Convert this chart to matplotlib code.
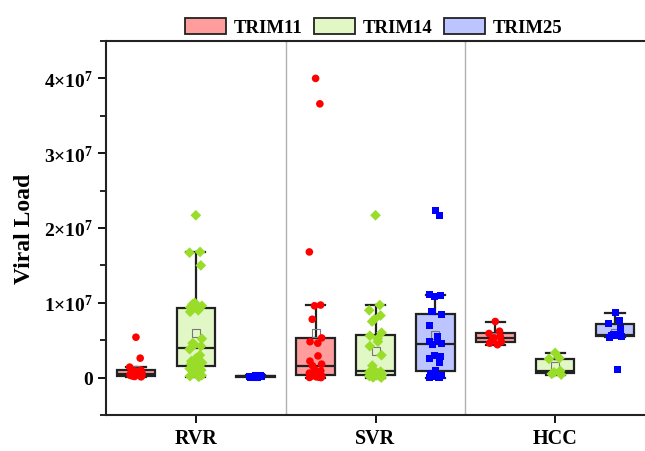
import numpy as np
import matplotlib
matplotlib.use("Agg")
import matplotlib.pyplot as plt
from matplotlib.patches import Patch
from matplotlib.ticker import MultipleLocator, FixedLocator

plt.rcParams['font.family'] = ['Liberation Serif', 'DejaVu Serif']
plt.rcParams['font.weight'] = 'bold'
plt.rcParams['mathtext.fontset'] = 'custom'
plt.rcParams['mathtext.rm'] = 'Liberation Serif:bold'
plt.rcParams['mathtext.bf'] = 'Liberation Serif:bold'

# data (viral load, units of 1e6)
groups = ['RVR', 'SVR', 'HCC']
genes = ['TRIM11', 'TRIM14', 'TRIM25']

rvr_trim11 = [5.4, 2.6, 1.4, 1.0, 0.9, 0.8, 0.6, 0.5, 0.45, 0.4, 0.3, 0.25, 0.2, 0.15, 0.1]
rvr_trim14 = [21.7, 16.8, 16.7, 15.0, 10.0, 9.8, 9.6, 9.4, 9.2, 9.0, 8.8, 5.2, 4.6, 4.4,
              4.2, 3.8, 3.0, 2.6, 2.2, 2.0, 1.8, 1.6, 1.5, 1.2, 1.0, 0.9, 0.6, 0.3, 0.2, 0.1]
rvr_trim25 = [0.3, 0.25, 0.2, 0.18, 0.15, 0.12, 0.1, 0.08, 0.05]

svr_trim11 = [40.0, 36.6, 16.8, 9.7, 9.6, 7.8, 5.3, 4.8, 4.6, 2.9, 2.2, 1.8, 1.6, 1.2,
              0.9, 0.6, 0.5, 0.4, 0.3, 0.2, 0.15, 0.1, 0.05, 0.02, 0.0]
svr_trim14 = [21.7, 9.7, 9.0, 8.3, 7.8, 7.5, 6.0, 5.6, 5.2, 4.8, 4.2, 3.0, 1.6, 1.0,
              0.8, 0.7, 0.6, 0.5, 0.45, 0.4, 0.35, 0.3, 0.25, 0.2, 0.15, 0.1, 0.05, 0.0]
svr_trim25 = [22.4, 21.7, 11.1, 11.0, 10.9, 8.8, 8.4, 7.0, 5.5, 5.0, 4.8, 4.6, 4.4,
              3.0, 2.8, 2.5, 2.0, 1.0, 0.5, 0.3, 0.2, 0.1, 0.05, 0.0]

hcc_trim11 = [7.5, 6.2, 5.9, 5.5, 5.3, 5.0, 4.8, 4.6, 4.4]
hcc_trim14 = [3.3, 2.6, 2.5, 0.9, 0.7, 0.5, 0.4]
hcc_trim25 = [8.7, 7.6, 7.2, 6.5, 5.7, 5.6, 5.5, 5.4, 1.1]

data = [[rvr_trim11, rvr_trim14, rvr_trim25],
        [svr_trim11, svr_trim14, svr_trim25],
        [hcc_trim11, hcc_trim14, hcc_trim25]]

box_colors = ['#FF9C9C', '#E1F7C6', '#BCC5FF']
pt_colors = ['#FF0000', '#99DD2A', '#0000FF']
pt_markers = ['o', 'D', 's']
pt_sizes = [30, 30, 26]

fig = plt.figure(figsize=(6.45, 4.52), dpi=100)
ax = fig.add_axes([106 / 645, 36 / 452, 539 / 645, 374 / 452])

offsets = [-1 / 3, 0, 1 / 3]
width = 0.215
for gi, grp in enumerate(data):
    for k, vals in enumerate(grp):
        v = np.array(vals) * 1e6
        pos = gi + 1 + offsets[k]
        ax.boxplot(v, positions=[pos], widths=width, patch_artist=True,
                   showfliers=False, showmeans=True, whis=1.5,
                   boxprops=dict(facecolor=box_colors[k], edgecolor='#222222', linewidth=1.6),
                   medianprops=dict(color='#222222', linewidth=1.6),
                   whiskerprops=dict(color='#222222', linewidth=1.6),
                   capprops=dict(color='#222222', linewidth=1.6),
                   capwidths=width * 0.5,
                   meanprops=dict(marker='s', markerfacecolor='none', markeredgecolor='#777777',
                                  markersize=5.5, markeredgewidth=0.8),
                   zorder=2)
        # deterministic jitter around box centre
        jit = 0.035 * np.sin(np.arange(len(v)) * 2.4)
        ax.scatter(pos + jit, v, s=pt_sizes[k], marker=pt_markers[k], color=pt_colors[k],
                   edgecolors='none', zorder=3)

for xs in [1.5, 2.5]:
    ax.axvline(xs, color='#B0B0B0', linewidth=1.0, zorder=0)

ax.set_xlim(0.5, 3.5)
ax.set_ylim(-5e6, 4.5e7)
ax.xaxis.set_major_locator(FixedLocator([1, 2, 3]))
ax.set_xticklabels(groups, fontsize=14.5, fontweight='bold')
ax.yaxis.set_major_locator(FixedLocator([0, 1e7, 2e7, 3e7, 4e7]))
ax.set_yticklabels(['0', r'$\mathbf{1{\times}10^{7}}$', r'$\mathbf{2{\times}10^{7}}$',
                    r'$\mathbf{3{\times}10^{7}}$', r'$\mathbf{4{\times}10^{7}}$'], fontsize=14)
ax.yaxis.set_minor_locator(MultipleLocator(5e6))
ax.tick_params(axis='both', which='major', direction='out', length=6, width=1.3)
ax.tick_params(axis='y', which='minor', direction='out', length=4, width=1.2)
ax.tick_params(axis='x', which='minor', bottom=False)
ax.set_ylabel('Viral Load', fontsize=17, fontweight='bold', labelpad=6)

for s in ['left', 'bottom', 'top']:
    ax.spines[s].set_linewidth(1.5)
    ax.spines[s].set_color('#222222')
ax.spines['right'].set_visible(False)

handles = [Patch(facecolor=box_colors[k], edgecolor='#222222', linewidth=1.3, label=genes[k])
           for k in range(3)]
fig.legend(handles=handles, loc='center', bbox_to_anchor=(0.579, 0.938), ncol=3, frameon=False,
           prop=dict(family='Liberation Serif', weight='bold', size=13.5),
           handlelength=2.2, handleheight=1.0, handletextpad=0.4, columnspacing=0.6)

fig.savefig('out.png', dpi=100)
